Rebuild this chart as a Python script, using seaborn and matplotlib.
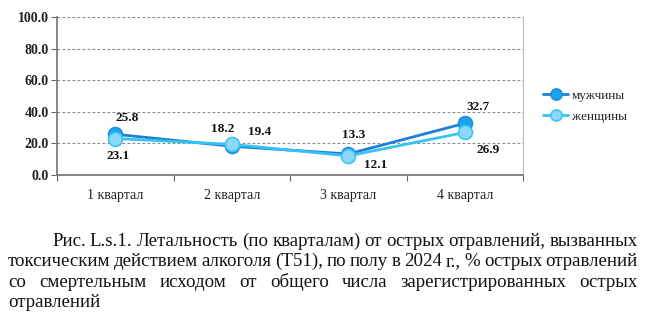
import matplotlib
matplotlib.use("Agg")
import matplotlib.pyplot as plt
import seaborn as sns
import pandas as pd

quarters = ["1 квартал", "2 квартал", "3 квартал", "4 квартал"]
men = [25.8, 18.2, 13.3, 32.7]
women = [23.1, 19.4, 12.1, 26.9]
series_names = ["мужчины", "женщины"]
y_ticks = [0, 20, 40, 60, 80, 100]
caption_lines = [
    "Рис. L.s.1. Летальность (по кварталам) от острых отравлений, вызванных",
    "токсическим действием алкоголя (Т51), по полу в 2024 г., % острых отравлений",
    "со смертельным исходом от общего числа зарегистрированных острых",
    "отравлений",
]

sns.set_theme(style="white")
plt.rcParams["font.family"] = ["Liberation Serif", "DejaVu Serif"]

fig = plt.figure(figsize=(6.5, 3.25), dpi=100)
W, H = 650, 325
ax = fig.add_axes([57 / W, 1 - 175 / H, (523 - 57) / W, (175 - 17) / H])

df = pd.DataFrame({"q": list(range(len(quarters))) * 2,
                   "v": men + women,
                   "s": [series_names[0]] * 4 + [series_names[1]] * 4})

styles = {
    series_names[0]: dict(color="#1F7FD6", mfc="#1BA5EC", mec="#1F8CE0"),
    series_names[1]: dict(color="#35C4F2", mfc="#8DD8F8", mec="#3BC6F2"),
}
for name in series_names:
    st = styles[name]
    sns.lineplot(data=df[df.s == name], x="q", y="v", ax=ax, sort=False,
                 color=st["color"], linewidth=2.0, marker="o", markersize=10,
                 markerfacecolor=st["mfc"], markeredgecolor=st["mec"],
                 markeredgewidth=1.2, label=name, legend=False)

ax.set_xlim(-0.5, 3.5)
ax.set_ylim(0, 100)
ax.set_yticks(y_ticks)
ax.set_yticklabels([f"{v:.1f}" for v in y_ticks], fontweight="bold", fontsize=10, color="#222222")
ax.set_xticks(range(4))
ax.set_xticklabels(quarters, fontsize=10, color="#222222")
ax.set_xticks([-0.5, 0.5, 1.5, 2.5, 3.5], minor=True)
ax.tick_params(axis="x", which="major", length=0, pad=10)
ax.tick_params(axis="x", which="minor", length=4, color="#666666", width=0.8, bottom=True)
ax.tick_params(axis="y", length=4, color="#666666", width=0.8, left=True, pad=2)
ax.set_xlabel("")
ax.set_ylabel("")
for y in y_ticks[1:]:
    ax.axhline(y, color="#888888", lw=0.8, ls=(0, (2.5, 2)), zorder=0)
ax.spines["left"].set_color("#777777")
ax.spines["bottom"].set_color("#777777")
ax.spines["top"].set_visible(False)
ax.spines["right"].set_color("#BBBBBB")
ax.spines["right"].set_linewidth(0.8)

men_off = [(12, 16), (-9, 17), (5, 19), (13, 16)]
women_off = [(3, -17), (28, 12), (27, -9), (23, -17.5)]
for i in range(4):
    ax.annotate(f"{men[i]:.1f}", (i, men[i]), xytext=men_off[i], textcoords="offset pixels",
                ha="center", va="center", fontsize=9.5, fontweight="bold", color="#111111")
    ax.annotate(f"{women[i]:.1f}", (i, women[i]), xytext=women_off[i], textcoords="offset pixels",
                ha="center", va="center", fontsize=9.5, fontweight="bold", color="#111111")

handles, labels = ax.get_legend_handles_labels()
fig.legend(handles, labels, loc="center left", bbox_to_anchor=(543 / W, 1 - 106 / H),
           frameon=False, fontsize=9.5, handlelength=1.9, handletextpad=0.3,
           labelspacing=0.67, markerscale=0.8, borderpad=0, borderaxespad=0)

# justified caption
fig.canvas.draw()
renderer = fig.canvas.get_renderer()
fs = 13.6
def place_line(text, y, x0, x1, justify):
    words = text.split(" ")
    if not justify:
        fig.text(x0 / W, 1 - y / H, text, fontsize=fs, va="baseline", ha="left", color="#111111")
        return
    ts = [fig.text(0, 1 - y / H, w, fontsize=fs, va="baseline", ha="left", color="#111111") for w in words]
    widths = [t.get_window_extent(renderer).width for t in ts]
    gap = (x1 - x0 - sum(widths)) / (len(words) - 1)
    x = x0
    for t, w in zip(ts, widths):
        t.set_x(x / W)
        x += w + gap

place_line(caption_lines[0], 246, 52, 638, True)
place_line(caption_lines[1], 266, 8, 638, True)
place_line(caption_lines[2], 287, 8, 638, True)
place_line(caption_lines[3], 307, 8, 638, False)

fig.savefig("out.png", dpi=100)
